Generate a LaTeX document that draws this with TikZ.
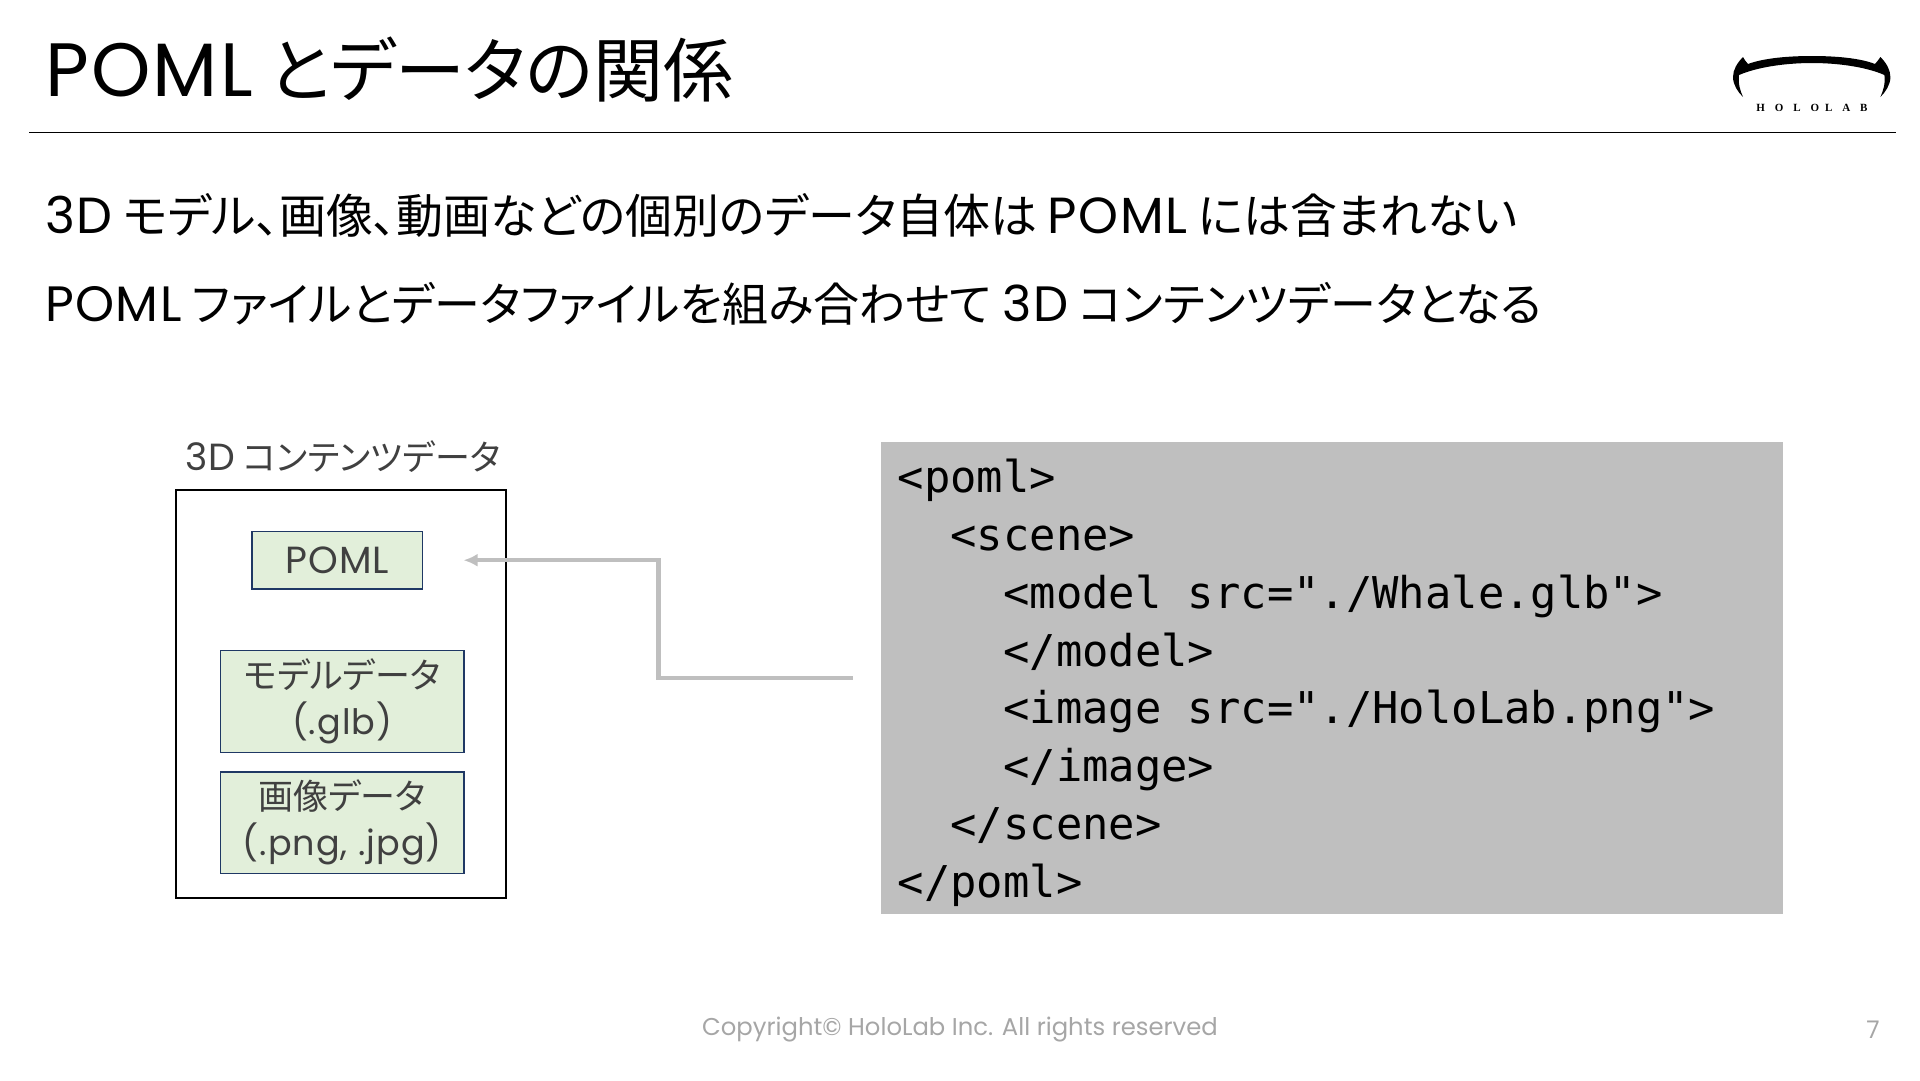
\documentclass[tikz,border=0pt]{standalone}
\usepackage{fontspec}
\setmainfont{Noto Sans CJK JP}[RawFeature=+palt]
\newfontfamily\latfont{Poppins}[Scale=1.08, LetterSpace=3]
\newfontfamily\boxfont{Poppins}[LetterSpace=3]
\newfontfamily\footfont{Poppins}
\newfontfamily\codefont{DejaVu Sans Mono}
\newfontfamily\logofont[LetterSpace=90]{Liberation Serif}
\newcommand{\lat}[1]{{\latfont #1}}
\usetikzlibrary{arrows.meta}
\usetikzlibrary{positioning}
\definecolor{blockgray}{HTML}{BFBFBF}
\definecolor{datagreen}{HTML}{E2EFDA}
\definecolor{dataedge}{HTML}{1F3864}
\definecolor{labeltext}{HTML}{404040}
\definecolor{footgray}{HTML}{A6A6A6}
\tikzset{
    titletext/.style={anchor=west, inner sep=0pt, font=\fontsize{70}{70}\selectfont},
    bodytext/.style={anchor=west, inner sep=0pt, font=\fontsize{47}{47}\selectfont},
    databox/.style={draw=dataedge, line width=1.2pt, fill=datagreen, text=labeltext, align=center, inner sep=0pt, font=\fontsize{35}{46}\selectfont},
    footertext/.style={inner sep=0pt, text=footgray, font=\footfont\fontsize{24.3}{24.3}\selectfont},
    arrowline/.style={draw=blockgray, line width=4.5pt, -{Latex[length=14pt,width=13pt]}}
}

\begin{document}
\begin{tikzpicture}[x=1pt, y=-1pt]

		\def\Indone{52.8pt}
		\def\Indtwo{105.6pt}

		\useasboundingbox (0,0) rectangle (1920,1080);

		\node[titletext] (title) at (45,70) {\lat{POML} とデータの関係};
		\coordinate (ruleleft) at (29.4,132.5);
		\coordinate (ruleright) at (1895.5,132.5);
		\draw[line width=1.2pt] (ruleleft) -- (ruleright);

		% logo
		\fill (1743,57) .. controls (1737,63) and (1733,70) .. (1733,77)
			.. controls (1733,85) and (1738,92) .. (1743,97)
			.. controls (1740,90) and (1738,84) .. (1739,75)
			.. controls (1760,66) and (1790,63) .. (1812,63)
			.. controls (1834,63) and (1864,66) .. (1884.4,75)
			.. controls (1885.4,84) and (1883.4,90) .. (1880.4,97)
			.. controls (1885.4,92) and (1890.4,85) .. (1890.4,77)
			.. controls (1890.4,70) and (1886.4,63) .. (1880.4,57)
			.. controls (1879,59) and (1877,62) .. (1875,64)
			.. controls (1860,58) and (1835,56) .. (1812,56)
			.. controls (1789,56) and (1764,58) .. (1748,64)
			.. controls (1746,62) and (1744,59) .. (1743,57) -- cycle;
		\node[inner sep=0pt, font=\logofont\bfseries\fontsize{11}{11}\selectfont] (logotext) at (1812,107.5) {HOLO\hspace{6pt}LAB};

		\node[bodytext] (lineone) at (45,215.5) {\lat{3D} モデル、画像、動画などの個別のデータ自体は \lat{POML} には含まれない};
		\node[bodytext, font=\fontsize{46}{46}\selectfont] (linetwo) at (45,303.7) {\lat{POML} ファイルとデータファイルを組み合わせて \lat{3D} コンテンツデータとなる};

		\node[inner sep=0pt, text=labeltext, font=\fontsize{35}{35}\selectfont] (contentlabel) at (343,457) {\lat{3D} コンテンツデータ};
		\node[draw, line width=2pt, minimum width=330pt, minimum height=408pt] (contentbox) at (341,694) {};

		\node[databox, minimum width=170.5pt, minimum height=57.5pt] (pomlbox) at (337.2,560.2) {\lat{POML}};
		\node[databox, minimum width=243.5pt, minimum height=102pt] (modelbox) at (342.2,701.5) {モデルデータ\\{\boxfont (.glb)}};
		\node[databox, minimum width=243.5pt, minimum height=101.5pt] (imagebox) at (342.2,822.7) {画像データ\\{\boxfont (.png, .jpg)}};

		\node[fill=blockgray, inner sep=0pt, minimum width=902.4pt, minimum height=471.5pt] (codeblock) at (1331.8,677.8) {};
		\node[anchor=north west, inner sep=0pt, align=left, font=\codefont\fontsize{43.8}{57.8}\selectfont] (codetext) at (897.6,459) {%
			<poml>\\
			\hspace*{\Indone}<scene>\\
			\hspace*{\Indtwo}<model src="./Whale.glb">\\
			\hspace*{\Indtwo}</model>\\
			\hspace*{\Indtwo}<image src="./HoloLab.png">\\
			\hspace*{\Indtwo}</image>\\
			\hspace*{\Indone}</scene>\\
			</poml>};

		\coordinate[left=27.5pt of codeblock.west] (codeout);
		\coordinate[right=40.5pt of pomlbox.east] (pomlin);
		\draw[arrowline] (codeout) -- ++(-194.5,0) |- (pomlin);

		\node[footertext] (copyright) at (960,1029.5) {Copyright© HoloLab Inc. All rights reserved};
		\node[footertext] (pagenum) at (1873,1029.5) {7};

	\end{tikzpicture}
\end{document}
